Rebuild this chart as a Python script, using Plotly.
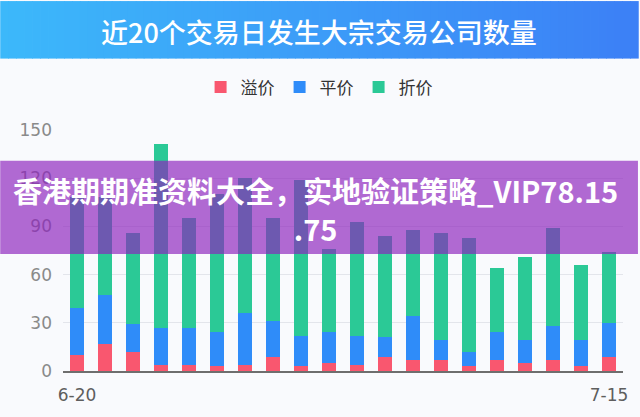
import plotly.graph_objects as go

# ---- data ----
dates = ["6-20", "6-21", "6-22", "6-23", "6-24", "6-27", "6-28", "6-29", "6-30", "7-1",
         "7-4", "7-5", "7-6", "7-7", "7-8", "7-11", "7-12", "7-13", "7-14", "7-15"]
premium = [10, 17, 12, 4, 4, 3, 4, 9, 3, 5, 4, 9, 7, 7, 3, 7, 5, 7, 3, 9]          # 溢价
par = [29, 30, 17, 23, 23, 21, 32, 22, 19, 19, 18, 12, 27, 12, 9, 17, 14, 21, 16, 21]  # 平价
discount = [69, 61, 57, 114, 68, 86, 84, 64, 97, 52, 71, 63, 54, 67, 71, 40, 52, 61, 47, 44]  # 折价
series_names = ["溢价", "平价", "折价"]
y_ticks = [0, 30, 60, 90, 120, 150]
title_text = "近20个交易日发生大宗交易公司数量"
overlay_line1 = "香港期期准资料大全，实地验证策略_VIP78.15"
overlay_line2 = ".75"

# ---- geometry helpers (pixels -> paper) ----
W, H = 640, 417
ML, MR, MT, MB = 63, 15, 130, 44
PW, PH = W - ML - MR, H - MT - MB


def px(x):
    return (x - ML) / PW


def py(y):
    return (H - MB - y) / PH


colors = ["#f9576f", "#2f8cf9", "#2bc996"]
fig = go.Figure()
for name, vals, c in zip(series_names, [premium, par, discount], colors):
    fig.add_trace(go.Bar(x=dates, y=vals, name=name, marker=dict(color=c, line=dict(width=0))))

shapes = []
# header gradient band
n = 80
c0 = (60, 184, 250)
c1 = (60, 128, 246)
for i in range(n):
    t = i / (n - 1)
    col = tuple(round(c0[k] + (c1[k] - c0[k]) * t) for k in range(3))
    x0 = W * i / n
    x1 = W * (i + 1) / n + 0.8
    shapes.append(dict(type="rect", xref="paper", yref="paper", x0=px(x0), x1=px(x1),
                       y0=py(58), y1=py(0), fillcolor="rgb(%d,%d,%d)" % col,
                       line=dict(width=0), layer="above"))
# purple overlay band
shapes.append(dict(type="rect", xref="paper", yref="paper", x0=px(0), x1=px(W),
                   y0=py(255), y1=py(161), fillcolor="rgba(142,36,188,0.68)",
                   line=dict(width=0), layer="above"))

annotations = [
    dict(text=title_text, x=px(320), y=py(31), xref="paper", yref="paper",
         xanchor="center", yanchor="middle", showarrow=False,
         font=dict(family="Noto Sans CJK SC", size=27, color="white", weight=500)),
    dict(text="<b>%s</b><br><b>%s</b>" % (overlay_line1, overlay_line2),
         x=px(316), y=py(210), xref="paper", yref="paper",
         xanchor="center", yanchor="middle", align="center", showarrow=False,
         font=dict(family="Noto Sans CJK SC", size=29, color="white")),
]

fig.update_layout(
    width=W, height=H,
    margin=dict(l=ML, r=MR, t=MT, b=MB, pad=0),
    barmode="stack", bargap=0.5,
    paper_bgcolor="#f9fafd", plot_bgcolor="#f9fafd",
    showlegend=True,
    legend=dict(orientation="h", x=px(320), y=py(87), xanchor="center", yanchor="middle",
                font=dict(family="Noto Sans CJK SC", size=17, color="#333333"),
                bgcolor="rgba(0,0,0,0)", traceorder="normal"),
    shapes=shapes, annotations=annotations,
    xaxis=dict(type="category", tickmode="array", tickvals=[dates[0], dates[-1]],
               ticktext=[dates[0], dates[-1]], showgrid=False, showline=True,
               linecolor="#6e6e6e", linewidth=2, ticks="", ticklabelstandoff=8,
               tickfont=dict(family="DejaVu Sans", size=17, color="#5e5e5e"), fixedrange=True),
    yaxis=dict(range=[0, 150], tickvals=y_ticks, showgrid=True, gridcolor="#e3e5eb",
               gridwidth=1, zeroline=False, showline=False, ticks="", ticklabelstandoff=10,
               tickfont=dict(family="DejaVu Sans", size=17, color="#8a8a8a")),
    font=dict(family="Noto Sans CJK SC"),
)

fig.write_html("out.html", config={"displayModeBar": False},
               post_script="document.body.style.margin='0px';document.body.style.overflow='hidden';")
